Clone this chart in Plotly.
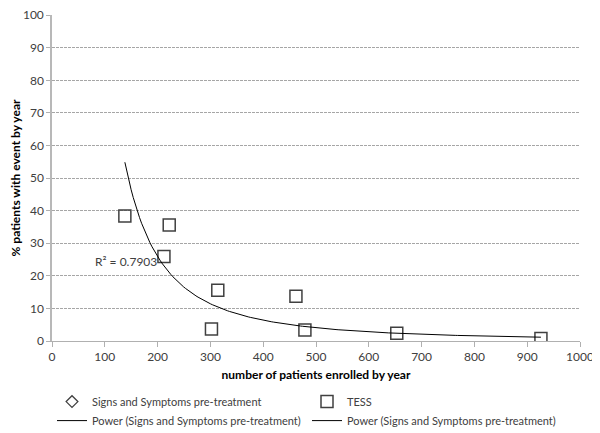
import plotly.graph_objs as go
import numpy as np

# TESS points
patients = [138, 212, 222, 302, 314, 462, 479, 653, 926]
pct_event = [38.4, 25.9, 35.6, 3.7, 15.6, 13.7, 3.4, 2.4, 0.8]

# power trendline (least squares in log-log space, like the spreadsheet does)
b, log_a = np.polyfit(np.log(patients), np.log(pct_event), 1)
a = np.exp(log_a)
fit_x = np.linspace(min(patients), max(patients), 200)
fit_y = a * fit_x ** b

font = "Lato, 'Open Sans', sans-serif"
grey = "#404040"

fig = go.Figure()
fig.add_trace(go.Scatter(
    x=[None], y=[None], mode="markers", name="Signs and Symptoms pre-treatment",
    marker=dict(symbol="diamond-open", size=9, color=grey, line=dict(width=1.3))
))
fig.add_trace(go.Scatter(
    x=patients, y=pct_event, mode="markers", name="TESS",
    marker=dict(symbol="square-open", size=12, color=grey, line=dict(width=1.5))
))
fig.add_trace(go.Scatter(
    x=fit_x, y=fit_y, mode="lines", name="Power (Signs and Symptoms pre-treatment)",
    line=dict(color="black", width=1)
))
fig.add_trace(go.Scatter(
    x=[None], y=[None], mode="lines", name="Power (Signs and Symptoms pre-treatment)",
    line=dict(color="black", width=1)
))

fig.add_annotation(x=140, y=24.5, text="R² = 0.7903", showarrow=False,
                   font=dict(size=12, color=grey, family=font))

# page body has an 8px margin, so the figure is a bit smaller than the window
fig.update_layout(
    width=592, height=425,
    margin=dict(l=44, r=20, t=7, b=92),
    plot_bgcolor="white", paper_bgcolor="white",
    font=dict(family=font, size=12, color=grey),
    showlegend=True,
    legend=dict(
        orientation="h", xref="paper", yref="container",
        x=0.0, y=0.108, xanchor="left", yanchor="top",
        entrywidth=210, entrywidthmode="pixels", traceorder="normal",
        font=dict(size=11, color=grey), tracegroupgap=0, itemwidth=30
    ),
    xaxis=dict(
        range=[0, 1000], dtick=100, showgrid=False, zeroline=False,
        showline=True, linecolor="#b0b0b0", ticks="outside", ticklen=5,
        tickcolor="#b0b0b0", automargin=False, ticklabeloverflow="allow",
        title=dict(text="<b>number of patients enrolled by year</b>",
                   font=dict(size=12, color="black"), standoff=7)
    ),
    yaxis=dict(
        range=[0, 100.05], dtick=10, showgrid=True, gridcolor="#a6a6a6",
        griddash="3px,1px", gridwidth=1, zeroline=False,
        showline=True, linecolor="#b8b8b8", linewidth=1.5,
        ticks="outside", ticklen=4, tickcolor="#b0b0b0", automargin=False,
        ticklabeloverflow="allow",
        title=dict(text="<b>% patients with event by year</b>",
                   font=dict(size=12, color="black"), standoff=8)
    ),
)

fig.write_html("out.html")
